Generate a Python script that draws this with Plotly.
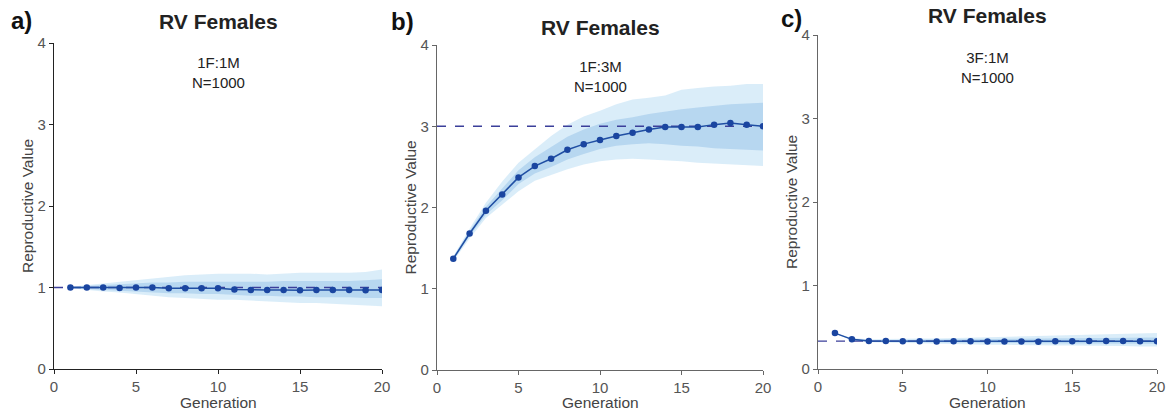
import plotly.graph_objects as go

generation = list(range(1, 21))

# Panel a) 1F:1M
a_mean = [1.00, 1.00, 1.00, 0.995, 1.00, 1.00, 0.99, 0.99, 0.99, 0.99, 0.975, 0.97, 0.97, 0.97, 0.965, 0.97, 0.97, 0.97, 0.965, 0.97]
a_outer_hi = [1.01, 1.03, 1.05, 1.07, 1.09, 1.11, 1.13, 1.15, 1.16, 1.17, 1.17, 1.17, 1.16, 1.17, 1.18, 1.18, 1.18, 1.18, 1.19, 1.22]
a_outer_lo = [0.99, 0.97, 0.95, 0.94, 0.92, 0.90, 0.88, 0.87, 0.86, 0.85, 0.85, 0.84, 0.83, 0.82, 0.81, 0.81, 0.80, 0.79, 0.78, 0.77]
a_inner_hi = [1.005, 1.02, 1.03, 1.04, 1.05, 1.06, 1.06, 1.07, 1.07, 1.07, 1.07, 1.07, 1.07, 1.08, 1.08, 1.08, 1.08, 1.08, 1.09, 1.10]
a_inner_lo = [0.995, 0.98, 0.97, 0.96, 0.95, 0.94, 0.93, 0.93, 0.92, 0.92, 0.91, 0.90, 0.90, 0.89, 0.89, 0.88, 0.88, 0.88, 0.87, 0.87]
a_ref = 1.0

# Panel b) 1F:3M
b_mean = [1.37, 1.68, 1.96, 2.16, 2.37, 2.51, 2.60, 2.71, 2.78, 2.83, 2.88, 2.92, 2.96, 2.99, 2.99, 2.99, 3.02, 3.04, 3.02, 3.00]
b_outer_hi = [1.40, 1.74, 2.06, 2.32, 2.55, 2.72, 2.88, 3.02, 3.12, 3.19, 3.27, 3.33, 3.35, 3.38, 3.45, 3.47, 3.49, 3.50, 3.52, 3.52]
b_outer_lo = [1.34, 1.62, 1.87, 2.03, 2.20, 2.33, 2.40, 2.47, 2.53, 2.57, 2.59, 2.60, 2.59, 2.58, 2.57, 2.55, 2.54, 2.53, 2.52, 2.51]
b_inner_hi = [1.39, 1.71, 2.01, 2.24, 2.46, 2.62, 2.74, 2.87, 2.96, 3.03, 3.08, 3.11, 3.15, 3.18, 3.21, 3.23, 3.25, 3.27, 3.28, 3.29]
b_inner_lo = [1.35, 1.65, 1.91, 2.09, 2.29, 2.42, 2.50, 2.59, 2.66, 2.72, 2.76, 2.78, 2.79, 2.78, 2.76, 2.75, 2.73, 2.72, 2.71, 2.70]
b_ref = 3.0

# Panel c) 3F:1M
c_mean = [0.43, 0.355, 0.335, 0.335, 0.333, 0.333, 0.330, 0.333, 0.332, 0.328, 0.330, 0.330, 0.326, 0.332, 0.332, 0.334, 0.334, 0.334, 0.332, 0.332]
c_outer_hi = [0.435, 0.37, 0.355, 0.36, 0.36, 0.365, 0.365, 0.37, 0.375, 0.38, 0.385, 0.39, 0.395, 0.40, 0.405, 0.41, 0.415, 0.42, 0.425, 0.43]
c_outer_lo = [0.425, 0.345, 0.32, 0.315, 0.31, 0.305, 0.30, 0.30, 0.295, 0.29, 0.29, 0.285, 0.285, 0.28, 0.28, 0.28, 0.275, 0.275, 0.27, 0.27]
c_inner_hi = [0.432, 0.362, 0.345, 0.347, 0.346, 0.348, 0.347, 0.351, 0.353, 0.352, 0.356, 0.358, 0.358, 0.364, 0.366, 0.370, 0.372, 0.374, 0.374, 0.376]
c_inner_lo = [0.428, 0.348, 0.326, 0.324, 0.321, 0.319, 0.315, 0.317, 0.314, 0.310, 0.310, 0.308, 0.305, 0.307, 0.306, 0.306, 0.305, 0.305, 0.302, 0.302]
c_ref = 1.0 / 3.0

panel_labels = ["a)", "b)", "c)"]
ratio_labels = ["1F:1M", "1F:3M", "3F:1M"]
pop_label = "N=1000"
title_text = "RV Females"
x_title = "Generation"
y_title = "Reproductive Value"
x_ticks = [0, 5, 10, 15, 20]
y_ticks = [0, 1, 2, 3, 4]

OUTER = "rgba(174, 214, 241, 0.45)"
INNER = "rgba(125, 178, 226, 0.38)"
LINE = "#1f4ea3"
MARK = "#1a45a0"
REF = "#3b3f9a"
FONT = "Liberation Sans, Arial, sans-serif"

# body margin is removed by post_script, so the figure fills the window exactly
W, H = 1172, 415


def fx(px):
    return px / W


def fy(py):
    return 1 - py / H


panels = [
    dict(mean=a_mean, ohi=a_outer_hi, olo=a_outer_lo, ihi=a_inner_hi, ilo=a_inner_lo, ref=a_ref,
         px=(54, 382), py=(369, 43), axc="#222", title_y=22, lab=(21, 20), ann_y=72, ytx=27),
    dict(mean=b_mean, ohi=b_outer_hi, olo=b_outer_lo, ihi=b_inner_hi, ilo=b_inner_lo, ref=b_ref,
         px=(437, 763), py=(370, 45), axc="#666", title_y=28, lab=(402, 22), ann_y=77, ytx=410),
    dict(mean=c_mean, ohi=c_outer_hi, olo=c_outer_lo, ihi=c_inner_hi, ilo=c_inner_lo, ref=c_ref,
         px=(818, 1157), py=(369, 35), axc="#666", title_y=16, lab=(791, 18), ann_y=67, ytx=792),
]

fig = go.Figure()
layout = {}
annotations = []

for i, p in enumerate(panels):
    n = "" if i == 0 else str(i + 1)
    xa, ya = "x" + n, "y" + n
    fig.add_trace(go.Scatter(x=generation, y=p["olo"], xaxis=xa, yaxis=ya, mode="lines",
                             line=dict(width=0, color=OUTER), showlegend=False, hoverinfo="skip"))
    fig.add_trace(go.Scatter(x=generation, y=p["ohi"], xaxis=xa, yaxis=ya, mode="lines",
                             line=dict(width=0, color=OUTER), fill="tonexty", fillcolor=OUTER,
                             showlegend=False, hoverinfo="skip"))
    fig.add_trace(go.Scatter(x=generation, y=p["ilo"], xaxis=xa, yaxis=ya, mode="lines",
                             line=dict(width=0, color=INNER), showlegend=False, hoverinfo="skip"))
    fig.add_trace(go.Scatter(x=generation, y=p["ihi"], xaxis=xa, yaxis=ya, mode="lines",
                             line=dict(width=0, color=INNER), fill="tonexty", fillcolor=INNER,
                             showlegend=False, hoverinfo="skip"))
    fig.add_trace(go.Scatter(x=[0, 20], y=[p["ref"], p["ref"]], xaxis=xa, yaxis=ya, mode="lines",
                             line=dict(width=1.3, color=REF, dash="dash"), showlegend=False))
    fig.add_trace(go.Scatter(x=generation, y=p["mean"], xaxis=xa, yaxis=ya, mode="lines+markers",
                             line=dict(width=1.5, color=LINE), marker=dict(size=6.5, color=MARK),
                             showlegend=False))

    axis_font = dict(family=FONT, size=15, color="#555")
    xd = [fx(p["px"][0]), fx(p["px"][1])]
    yd = [fy(p["py"][0]), fy(p["py"][1])]
    layout["xaxis" + n] = dict(domain=xd, range=[0, 20], tickvals=x_ticks, anchor=ya, automargin=False,
                               showline=True, linecolor=p["axc"], linewidth=1.3, ticks="outside",
                               ticklen=4, tickcolor=p["axc"], showgrid=False, zeroline=False,
                               tickfont=axis_font)
    layout["yaxis" + n] = dict(domain=yd, range=[0, 4], tickvals=y_ticks, anchor=xa, automargin=False,
                               showline=True, linecolor=p["axc"], linewidth=1.3, ticks="outside",
                               ticklen=4, tickcolor=p["axc"], showgrid=False, zeroline=False,
                               tickfont=axis_font)

    cx = (xd[0] + xd[1]) / 2
    annotations.append(dict(text="<b>" + title_text + "</b>", x=cx, y=fy(p["title_y"]),
                            xref="paper", yref="paper", showarrow=False, xanchor="center", yanchor="middle",
                            font=dict(family=FONT, size=21, color="#222")))
    annotations.append(dict(text="<b>" + panel_labels[i] + "</b>", x=fx(p["lab"][0]), y=fy(p["lab"][1]),
                            xref="paper", yref="paper", showarrow=False, xanchor="center", yanchor="middle",
                            font=dict(family=FONT, size=24, color="#111")))
    annotations.append(dict(text=ratio_labels[i] + "<br>" + pop_label, x=cx, y=fy(p["ann_y"]),
                            xref="paper", yref="paper", showarrow=False, xanchor="center", yanchor="middle",
                            font=dict(family=FONT, size=15, color="#222")))
    annotations.append(dict(text=x_title, x=cx, y=fy(402), xref="paper", yref="paper",
                            showarrow=False, xanchor="center", yanchor="middle",
                            font=dict(family=FONT, size=15.5, color="#444")))
    annotations.append(dict(text=y_title, x=fx(p["ytx"]), y=(yd[0] + yd[1]) / 2, textangle=-90,
                            xref="paper", yref="paper", showarrow=False, xanchor="center", yanchor="middle",
                            font=dict(family=FONT, size=15.5, color="#444")))

fig.update_layout(**layout)
fig.update_layout(annotations=annotations, width=W, height=H,
                  margin=dict(l=0, r=0, t=0, b=0), plot_bgcolor="white", paper_bgcolor="white",
                  showlegend=False)

fig.write_html("out.html", config={"displayModeBar": False},
               post_script="document.body.style.margin='0px';document.body.style.overflow='hidden';")
